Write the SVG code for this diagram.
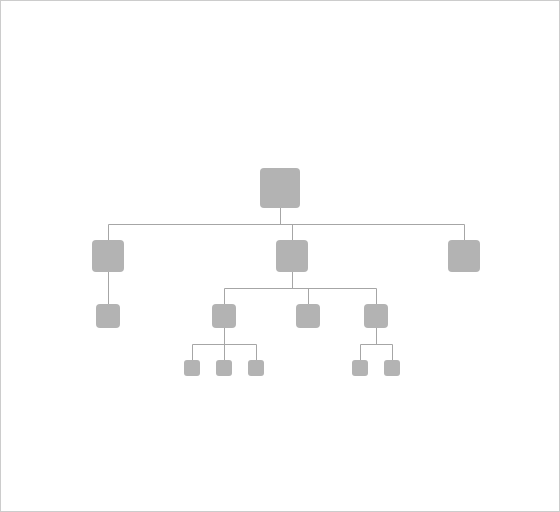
<svg xmlns="http://www.w3.org/2000/svg" width="560" height="512" viewBox="0 0 560 512">
<style>
.n{fill:#b3b3b3}
.c{stroke:#a6a6a6;stroke-width:1;fill:none}
</style>
<rect x="0.5" y="0.5" width="559" height="511" fill="#fff" stroke="#cccccc"/>
<g id="connectors">
<path class="c" d="M280.5 208V224.5M108.5 224.5H464.5M108.5 224.5V240M292.5 224.5V240M464.5 224.5V240"/>
<path class="c" d="M108.5 272V304"/>
<path class="c" d="M292.5 272V288.5M224.5 288.5H376.5M224.5 288.5V304M308.5 288.5V304M376.5 288.5V304"/>
<path class="c" d="M224.5 328V344.5M192.5 344.5H256.5M192.5 344.5V360M224.5 344.5V360M256.5 344.5V360"/>
<path class="c" d="M376.5 328V344.5M360.5 344.5H392.5M360.5 344.5V360M392.5 344.5V360"/>
</g>
<g id="n0"><rect class="n" x="260" y="168" width="40" height="40" rx="4"/></g>
<g id="n1"><rect class="n" x="92" y="240" width="32" height="32" rx="4"/></g>
<g id="n2"><rect class="n" x="276" y="240" width="32" height="32" rx="4"/></g>
<g id="n3"><rect class="n" x="448" y="240" width="32" height="32" rx="4"/></g>
<g id="n4"><rect class="n" x="96" y="304" width="24" height="24" rx="4"/></g>
<g id="n5"><rect class="n" x="212" y="304" width="24" height="24" rx="4"/></g>
<g id="n6"><rect class="n" x="296" y="304" width="24" height="24" rx="4"/></g>
<g id="n7"><rect class="n" x="364" y="304" width="24" height="24" rx="4"/></g>
<g id="n8"><rect class="n" x="184" y="360" width="16" height="16" rx="3"/></g>
<g id="n9"><rect class="n" x="216" y="360" width="16" height="16" rx="3"/></g>
<g id="n10"><rect class="n" x="248" y="360" width="16" height="16" rx="3"/></g>
<g id="n11"><rect class="n" x="352" y="360" width="16" height="16" rx="3"/></g>
<g id="n12"><rect class="n" x="384" y="360" width="16" height="16" rx="3"/></g>
</svg>
